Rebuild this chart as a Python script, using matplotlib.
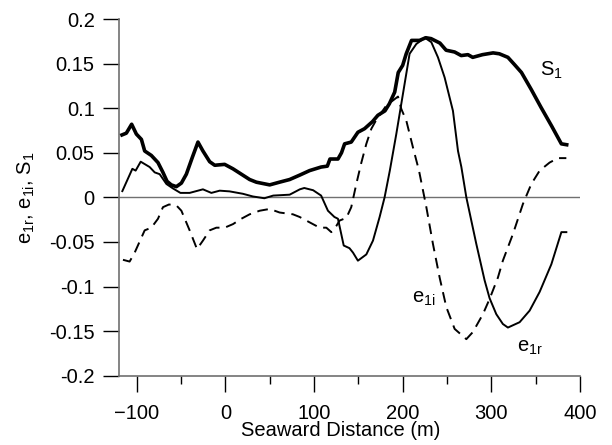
import matplotlib
matplotlib.use("Agg")
import matplotlib.pyplot as plt
from matplotlib.ticker import MultipleLocator

plt.rcParams['font.family'] = ['Liberation Sans', 'DejaVu Sans']
plt.rcParams['mathtext.fontset'] = 'custom'
plt.rcParams['mathtext.rm'] = 'Liberation Sans'
plt.rcParams['mathtext.it'] = 'Liberation Sans'
plt.rcParams['mathtext.default'] = 'regular'

# ---- data ----
s1_x = [-116.6, -111.7, -105.7, -100.4, -94.7, -91, -83.5, -76, -70.4, -65.8, -61, -55.3,
        -49.6, -44, -37.2, -30.9, -25.3, -17.7, -12, -0.8, 8.6, 18, 27.4, 35, 50, 61,
        72.5, 84, 95, 108, 115, 118, 127, 131, 134.5, 142, 149.5, 157, 166, 172, 180,
        185, 191, 195, 200, 204, 210, 219, 226, 232, 238, 242, 249, 258.6, 266, 273.6,
        279, 290, 302, 309, 318.7, 326, 334, 345, 356, 368, 379, 385]
s1_y = [0.070, 0.072, 0.082, 0.071, 0.065, 0.052, 0.047, 0.039, 0.028, 0.018, 0.014, 0.012,
        0.016, 0.026, 0.045, 0.062, 0.052, 0.040, 0.036, 0.037, 0.032, 0.026, 0.020, 0.017,
        0.014, 0.017, 0.020, 0.025, 0.030, 0.034, 0.035, 0.043, 0.043, 0.050, 0.060, 0.062,
        0.073, 0.077, 0.085, 0.092, 0.097, 0.105, 0.118, 0.140, 0.148, 0.161, 0.176, 0.176,
        0.179, 0.178, 0.175, 0.173, 0.165, 0.163, 0.159, 0.160, 0.157, 0.160, 0.162, 0.161,
        0.157, 0.149, 0.140, 0.121, 0.101, 0.080, 0.060, 0.059]

e1r_x = [-116.2, -104.9, -101.2, -95.5, -85.4, -79.7, -74.1, -66.5, -59.1, -50.7, -40.3,
         -25.3, -15.8, -6.4, 4.8, 19.8, 31, 44, 54, 72.5, 84, 89, 99, 108, 115.7, 123, 127,
         133.5, 140, 144, 149.5, 159, 166.5, 174, 179.6, 185.5, 192.8, 200.3, 207.8, 215.4,
         225, 232.3, 239.8, 247.3, 256.7, 262.4, 266.2, 271.8, 283, 292.4, 298, 305.6, 313,
         318.7, 331.9, 343.2, 354.5, 367.7, 379, 384.6]
e1r_y = [0.007, 0.032, 0.030, 0.040, 0.034, 0.028, 0.026, 0.015, 0.010, 0.005, 0.005,
         0.009, 0.005, 0.0075, 0.0067, 0.004, 0.001, -0.001, 0.002, 0.003, 0.009, 0.0105,
         0.008, 0.002, -0.015, -0.022, -0.024, -0.054, -0.057, -0.062, -0.071, -0.064,
         -0.0485, -0.022, 0.000, 0.030, 0.071, 0.116, 0.161, 0.172, 0.179, 0.174, 0.157,
         0.1345, 0.097, 0.052, 0.034, 0.000, -0.052, -0.093, -0.113, -0.131, -0.142, -0.146,
         -0.140, -0.127, -0.106, -0.075, -0.039, -0.039]

e1i_x = [-115.5, -108, -102.3, -91, -83.5, -76, -70.4, -63.6, -55.3, -49.6, -40.3, -32,
         -25.3, -17.7, -10.2, -0.8, 8.6, 18, 27.4, 38.7, 50, 61.2, 76.2, 83.8, 95, 106.3,
         113.9, 119.5, 125.2, 128.9, 136.5, 142, 147.7, 153.4, 159, 164.7, 170.3, 181.6,
         194.7, 198.5, 204.1, 211.6, 218.4, 226.7, 234.1, 241.7, 249.2, 258.6, 271.8, 279.2,
         290.5, 298, 307.4, 313, 324.4, 335.6, 345.1, 354.5, 365.7, 375.1, 384.6]
e1i_y = [-0.070, -0.072, -0.062, -0.037, -0.034, -0.024, -0.011, -0.008, -0.009, -0.015,
         -0.037, -0.058, -0.0485, -0.037, -0.034, -0.034, -0.030, -0.024, -0.019, -0.015,
         -0.013, -0.017, -0.019, -0.022, -0.028, -0.034, -0.034, -0.039, -0.032, -0.026,
         -0.023, -0.011, 0.015, 0.039, 0.060, 0.077, 0.087, 0.103, 0.113, 0.099, 0.086,
         0.056, 0.030, -0.011, -0.052, -0.090, -0.123, -0.1475, -0.159, -0.151, -0.131,
         -0.114, -0.090, -0.071, -0.041, -0.0075, 0.015, 0.030, 0.039, 0.044, 0.044]

x_ticks = [-100, 0, 100, 200, 300, 400]
y_ticks = [-0.2, -0.15, -0.1, -0.05, 0, 0.05, 0.1, 0.15, 0.2]
y_tick_labels = ['-0.2', '-0.15', '-0.1', '-0.05', '0', '0.05', '0.1', '0.15', '0.2']

FS = 14.5

fig = plt.figure(figsize=(6.12, 4.45), dpi=100)
ax = fig.add_axes([0.1944, 0.1557, 0.7533, 0.8016])

ax.axhline(0, color='#707070', lw=1.0, zorder=1)
ax.plot(s1_x, s1_y, color='black', lw=2.6, solid_joinstyle='round', zorder=3)
ax.plot(e1r_x, e1r_y, color='black', lw=1.4, zorder=3)
ax.plot(e1i_x, e1i_y, color='black', lw=1.4, dashes=(5.5, 3.5), zorder=3)

ax.set_xlim(-120, 400)
ax.set_ylim(-0.2, 0.2)
ax.set_xticks(x_ticks)
ax.xaxis.set_minor_locator(MultipleLocator(50))
ax.set_yticks(y_ticks)
ax.set_yticklabels(y_tick_labels)

for s in ['top', 'right']:
    ax.spines[s].set_visible(False)
for s in ['left', 'bottom']:
    ax.spines[s].set_color('#707070')
    ax.spines[s].set_linewidth(1.2)

ax.tick_params(axis='both', which='major', length=11.5, width=1.0, color='black',
               labelsize=FS)
ax.tick_params(axis='y', which='major', pad=6)
ax.tick_params(axis='x', which='major', pad=9)
ax.tick_params(axis='x', which='minor', length=5.8, width=1.0, color='black')

ax.set_xlabel('Seaward Distance (m)', fontsize=FS)
ax.xaxis.set_label_coords(0.4805, -0.128)
ax.set_ylabel(r'e$_{1r}$, e$_{1i}$, S$_1$', fontsize=FS)
ax.yaxis.set_label_coords(-0.177, 0.5)

ax.text(355, 0.142, r'S$_1$', fontsize=FS, va='center', ha='left')
ax.text(210, -0.113, r'e$_{1i}$', fontsize=FS, va='center', ha='left')
ax.text(329, -0.168, r'e$_{1r}$', fontsize=FS, va='center', ha='left')

fig.savefig('out.png', dpi=100)
